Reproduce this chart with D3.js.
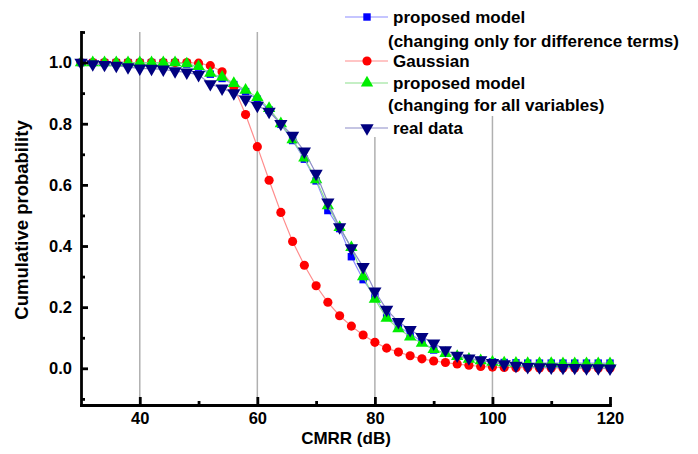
<!DOCTYPE html>
<html>
<head>
<meta charset="utf-8">
<script src="https://cdn.jsdelivr.net/npm/d3@7"></script>
<style>
  html, body { margin: 0; padding: 0; background: #fff; }
  svg { display: block; }
  text { font-family: "Liberation Sans", Arial, sans-serif; font-weight: bold; fill: #000; }
</style>
</head>
<body>
<svg id="chart" width="698" height="454"></svg>
<script>
// ---------- data ----------
const cmrr = [30,32,34,36,38,40,42,44,46,48,50,52,54,56,58,60,62,64,66,68,70,72,74,76,78,80,82,84,86,88,90,92,94,96,98,100,102,104,106,108,110,112,114,116,118,120];

const proposedDiff = [1.0,1.0,1.0,1.0,1.0,1.0,1.0,1.0,1.0,0.995,0.985,0.962,0.948,0.928,0.905,0.88,0.845,0.798,0.745,0.684,0.613,0.516,0.457,0.365,0.29,0.234,0.174,0.136,0.114,0.087,0.06,0.05,0.039,0.031,0.026,0.021,0.019,0.018,0.017,0.017,0.017,0.017,0.017,0.017,0.017,0.017];

const gaussian = [1.0,1.0,1.0,1.0,1.0,1.0,1.0,1.0,1.0,1.0,0.998,0.99,0.97,0.92,0.83,0.725,0.615,0.51,0.415,0.337,0.27,0.216,0.172,0.138,0.109,0.085,0.066,0.053,0.041,0.031,0.024,0.019,0.014,0.01,0.006,0.004,0.003,0.002,0.002,0.001,0.001,0.001,0.001,0.0,0.0,0.0];

const proposedAll = [1.0,1.0,1.0,1.0,1.0,1.0,1.0,1.0,1.0,0.996,0.987,0.965,0.952,0.932,0.91,0.886,0.85,0.80,0.748,0.688,0.617,0.532,0.461,0.395,0.30,0.226,0.164,0.13,0.103,0.082,0.062,0.049,0.039,0.03,0.025,0.02,0.018,0.017,0.016,0.016,0.016,0.015,0.015,0.015,0.015,0.015];

const realData = [1.0,0.995,0.993,0.99,0.985,0.981,0.98,0.978,0.972,0.968,0.96,0.93,0.916,0.9,0.88,0.859,0.84,0.80,0.761,0.71,0.637,0.543,0.462,0.393,0.332,0.252,0.192,0.152,0.126,0.103,0.082,0.06,0.042,0.033,0.027,0.018,0.014,0.009,0.005,0.004,0.003,0.002,0.002,0.001,0.001,0.0];

const xMajorTicks = [40,60,80,100,120];
const xMinorTicks = [50,70,90,110];
const yMajorTicks = [0.0,0.2,0.4,0.6,0.8,1.0];
const yMinorTicks = [-0.1,0.1,0.3,0.5,0.7,0.9,1.1];
const gridValues = [40,60,80,100];

const seriesNames = ["proposed model|(changing only for difference terms)", "Gaussian", "proposed model|(changing for all variables)", "real data"];

// ---------- setup ----------
const svg = d3.select("#chart");
const x = d3.scaleLinear().domain([30,120]).range([81,610]);
const y = d3.scaleLinear().domain([-0.12,1.1]).range([405,32]);

svg.append("rect").attr("width",698).attr("height",454).attr("fill","#fff");

// gridlines
svg.append("g").selectAll("line").data(gridValues).join("line")
  .attr("x1", d => x(d)).attr("x2", d => x(d))
  .attr("y1", y(1.1)).attr("y2", y(-0.12))
  .attr("stroke", "#b0b0b0").attr("stroke-width", 1.5);

// series
const series = [
  {name: seriesNames[0], values: proposedDiff, line: "#8c8cff", fill: "#0000ff", sym: d3.symbolSquare, size: 55, rot: 0},
  {name: seriesNames[1], values: gaussian,     line: "#ff8c8c", fill: "#ff0000", sym: d3.symbolCircle, size: 66, rot: 0},
  {name: seriesNames[2], values: proposedAll,  line: "#8ce08c", fill: "#00ee00", sym: d3.symbolTriangle, size: 66, rot: 0},
  {name: seriesNames[3], values: realData,     line: "#8c8cc8", fill: "#000080", sym: d3.symbolTriangle, size: 76, rot: 180}
];

const lineGen = d3.line().x(d => x(d[0])).y(d => y(d[1]));

series.forEach(s => {
  const pts = cmrr.map((c,i) => [c, s.values[i]]);
  const g = svg.append("g");
  g.append("path").datum(pts).attr("d", lineGen)
    .attr("fill","none").attr("stroke", s.line).attr("stroke-width", 1.2);
  g.selectAll("path.m").data(pts).join("path").attr("class","m")
    .attr("d", d3.symbol().type(s.sym).size(s.size))
    .attr("transform", d => `translate(${x(d[0])},${y(d[1])}) rotate(${s.rot})`)
    .attr("fill", s.fill);
});

// axes
const axisW = 2.8;
svg.append("g").attr("transform", `translate(0,${y(-0.12)})`)
  .call(d3.axisBottom(x).tickValues(xMajorTicks).tickSizeInner(-8).tickSizeOuter(0).tickPadding(7).tickFormat(d3.format("d")));
svg.append("g").attr("transform", `translate(0,${y(-0.12)})`)
  .call(d3.axisBottom(x).tickValues(xMinorTicks).tickSizeInner(-4).tickSizeOuter(0).tickFormat(""))
  .select(".domain").remove();

svg.append("g").attr("transform", `translate(${x(30)},0)`)
  .call(d3.axisLeft(y).tickValues(yMajorTicks).tickSizeInner(-7).tickSizeOuter(0).tickPadding(9).tickFormat(d3.format(".1f")));
svg.append("g").attr("transform", `translate(${x(30)},0)`)
  .call(d3.axisLeft(y).tickValues(yMinorTicks).tickSizeInner(-4).tickSizeOuter(0).tickFormat(""))
  .select(".domain").remove();

svg.selectAll(".domain").attr("stroke","#000").attr("stroke-width",axisW).attr("stroke-linecap","square");
svg.selectAll(".tick line").attr("stroke","#000").attr("stroke-width",axisW);
svg.selectAll(".tick text").attr("font-size",16.5).attr("font-family","Liberation Sans, Arial, sans-serif").attr("font-weight","bold").attr("fill","#000");

// axis titles
svg.append("text").attr("x", 346).attr("y", 444).attr("text-anchor","middle")
  .attr("font-size",17).text("CMRR (dB)");
svg.append("text").attr("transform","translate(28,220) rotate(-90)").attr("text-anchor","middle")
  .attr("font-size",18.5).text("Cumulative probability");

// legend
const leg = svg.append("g");
leg.append("rect").attr("x",338).attr("y",0).attr("width",360).attr("height",116).attr("fill","#fff");
leg.append("rect").attr("x",340).attr("y",116).attr("width",150).attr("height",21).attr("fill","#fff");
const legRows = [
  {s: series[0], y: 17, y2: 41},
  {s: series[1], y: 61},
  {s: series[2], y: 83, y2: 105},
  {s: series[3], y: 128}
];
legRows.forEach(r => {
  leg.append("line").attr("x1",345).attr("x2",388).attr("y1",r.y).attr("y2",r.y)
    .attr("stroke", r.s.line).attr("stroke-width",1.2);
  leg.append("path").attr("d", d3.symbol().type(r.s.sym).size(r.s.size))
    .attr("transform", `translate(367,${r.y}) rotate(${r.s.rot})`).attr("fill", r.s.fill);
  const parts = r.s.name.split("|");
  leg.append("text").attr("x",393).attr("y",r.y + 6).attr("font-size",17).text(parts[0]);
  if (parts[1]) leg.append("text").attr("x",388).attr("y",r.y2 + 6).attr("font-size",17).text(parts[1]);
});
</script>
</body>
</html>
